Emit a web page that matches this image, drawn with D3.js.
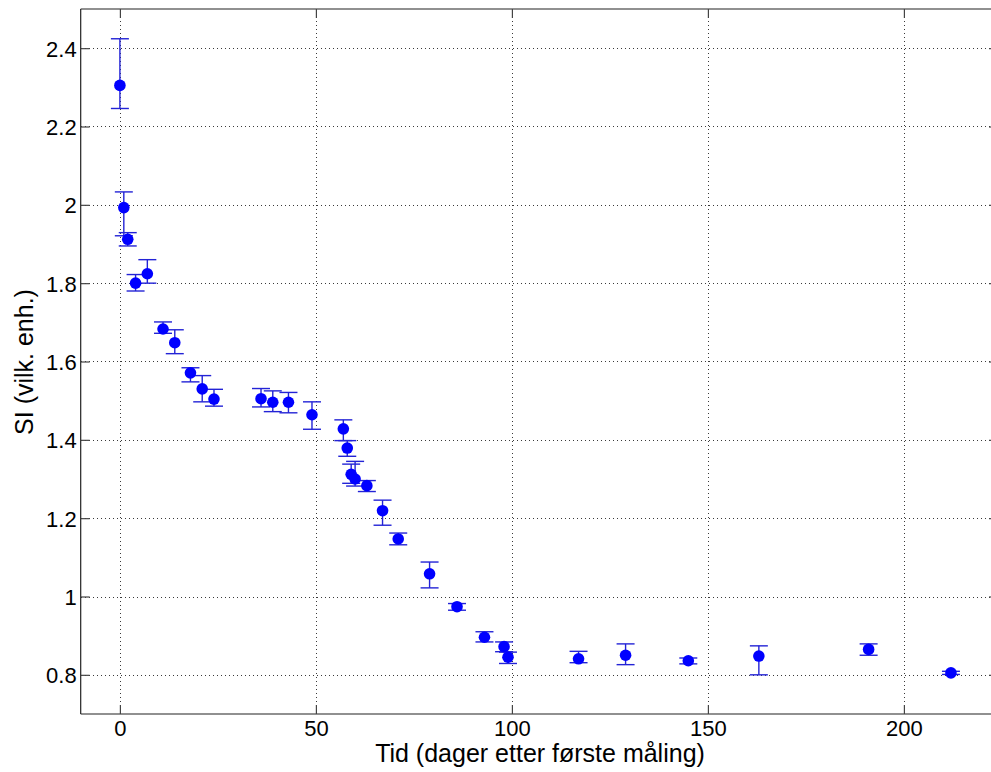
<!DOCTYPE html>
<html>
<head>
<meta charset="utf-8">
<script src="https://cdn.jsdelivr.net/npm/d3@7"></script>
<style>
  html, body { margin: 0; padding: 0; background: #fff; }
  svg { display: block; font-family: Arial, "Liberation Sans", sans-serif; }
</style>
</head>
<body>
<svg id="chart" width="991" height="772"></svg>
<script>
// Days since first measurement
const days = [0, 1, 2, 4, 7, 11, 14, 18, 21, 24, 36, 39, 43, 49, 57, 58, 59, 60, 63, 67, 71, 79, 86, 93, 98, 99, 117, 129, 145, 163, 191, 212];
// SI value (arbitrary units)
const si = [2.305, 1.993, 1.912, 1.800, 1.824, 1.683, 1.648, 1.571, 1.530, 1.504, 1.505, 1.496, 1.496, 1.464, 1.428, 1.379, 1.312, 1.300, 1.283, 1.219, 1.147, 1.058, 0.974, 0.896, 0.872, 0.845, 0.841, 0.850, 0.836, 0.848, 0.865, 0.805];
// Lower and upper ends of the error bars
const siLow = [2.246, 1.921, 1.895, 1.780, 1.800, 1.672, 1.620, 1.548, 1.497, 1.486, 1.484, 1.472, 1.469, 1.427, 1.398, 1.358, 1.289, 1.282, 1.268, 1.182, 1.132, 1.022, 0.965, 0.884, 0.859, 0.829, 0.831, 0.826, 0.828, 0.800, 0.850, 0.801];
const siHigh = [2.424, 2.033, 1.929, 1.822, 1.860, 1.701, 1.681, 1.584, 1.564, 1.529, 1.531, 1.525, 1.521, 1.497, 1.451, 1.398, 1.338, 1.345, 1.296, 1.246, 1.162, 1.088, 0.982, 0.910, 0.884, 0.858, 0.860, 0.879, 0.843, 0.874, 0.879, 0.809];
// Tick values
const xTicks = [0, 50, 100, 150, 200];
const yTicks = [0.8, 1, 1.2, 1.4, 1.6, 1.8, 2, 2.2, 2.4];
const xLabel = "Tid (dager etter første måling)";
const yLabel = "SI (vilk. enh.)";

const points = days.map((d, i) => ({ d, v: si[i], lo: siLow[i], hi: siHigh[i] }));

const svg = d3.select("#chart");
const plotLeft = 80.7, plotTop = 9, plotBottom = 714;
const x = d3.scaleLinear().domain([-10, 224]).range([plotLeft, plotLeft + 234 * 3.92]);
const y = d3.scaleLinear().domain([0.7, 2.5]).range([plotBottom, plotTop]);
const plotRight = x.range()[1];

// Dotted grid
const grid = svg.append("g").attr("stroke", "#3a3a3a").attr("stroke-width", 1)
  .attr("stroke-dasharray", "1,3").attr("shape-rendering", "crispEdges");
grid.selectAll("line.gx").data(xTicks).join("line").attr("class", "gx")
  .attr("x1", d => Math.round(x(d)) + 0.5).attr("x2", d => Math.round(x(d)) + 0.5)
  .attr("y1", plotTop).attr("y2", plotBottom);
grid.selectAll("line.gy").data(yTicks).join("line").attr("class", "gy")
  .attr("y1", d => Math.round(y(d)) + 0.5).attr("y2", d => Math.round(y(d)) + 0.5)
  .attr("x1", plotLeft).attr("x2", plotRight);

// Axes with inward ticks on all four sides
const tickLen = 9;
const axB = svg.append("g").attr("transform", `translate(0,${plotBottom})`)
  .call(d3.axisBottom(x).tickValues(xTicks).tickSizeInner(-tickLen).tickSizeOuter(0).tickFormat(d3.format("d")));
const axT = svg.append("g").attr("transform", `translate(0,${plotTop})`)
  .call(d3.axisTop(x).tickValues(xTicks).tickSizeInner(-tickLen).tickSizeOuter(0).tickFormat(""));
const axL = svg.append("g").attr("transform", `translate(${plotLeft},0)`)
  .call(d3.axisLeft(y).tickValues(yTicks).tickSizeInner(-tickLen).tickSizeOuter(0).tickPadding(4).tickFormat(d => d3.format("")(d)));
const axR = svg.append("g").attr("transform", `translate(${plotRight},0)`)
  .call(d3.axisRight(y).tickValues(yTicks).tickSizeInner(-tickLen).tickSizeOuter(0).tickFormat(""));

[axB, axT, axL, axR].forEach(a => {
  a.select(".domain").attr("stroke", "#222").attr("stroke-width", 1.2);
  a.selectAll(".tick line").attr("stroke", "#444").attr("stroke-width", 1.2);
  a.selectAll("text").attr("fill", "#000").attr("font-size", 22)
    .attr("font-family", "Arial, 'Liberation Sans', sans-serif");
});
axB.selectAll(".tick text").attr("y", 21.5).attr("dy", 0);
axL.selectAll(".tick text").attr("dy", "0.36em");
axL.select(".domain").attr("d", `M0,${plotTop}V${plotBottom}`);
axB.select(".domain").attr("d", `M${plotLeft},0H${plotRight}`);
axT.select(".domain").attr("d", `M${plotLeft},0H${plotRight}`);

// Error bars
const capW = 9;
const eb = svg.append("g").attr("stroke", "#2323d6").attr("stroke-width", 1.4).attr("fill", "none");
const ebG = eb.selectAll("g").data(points).join("g");
ebG.append("line")
  .attr("x1", p => x(p.d)).attr("x2", p => x(p.d))
  .attr("y1", p => y(p.lo)).attr("y2", p => y(p.hi));
ebG.append("line")
  .attr("x1", p => x(p.d) - capW).attr("x2", p => x(p.d) + capW)
  .attr("y1", p => y(p.lo)).attr("y2", p => y(p.lo));
ebG.append("line")
  .attr("x1", p => x(p.d) - capW).attr("x2", p => x(p.d) + capW)
  .attr("y1", p => y(p.hi)).attr("y2", p => y(p.hi));

// Markers
svg.append("g").selectAll("circle").data(points).join("circle")
  .attr("cx", p => x(p.d)).attr("cy", p => y(p.v)).attr("r", 5.8)
  .attr("fill", "#0000ff");

// Axis titles
svg.append("text").attr("x", 540).attr("y", 762).attr("text-anchor", "middle")
  .attr("font-size", 25).attr("fill", "#000").text(xLabel);
svg.append("text").attr("transform", `translate(33,362) rotate(-90)`).attr("text-anchor", "middle")
  .attr("font-size", 25).attr("fill", "#000").text(yLabel);
</script>
</body>
</html>
